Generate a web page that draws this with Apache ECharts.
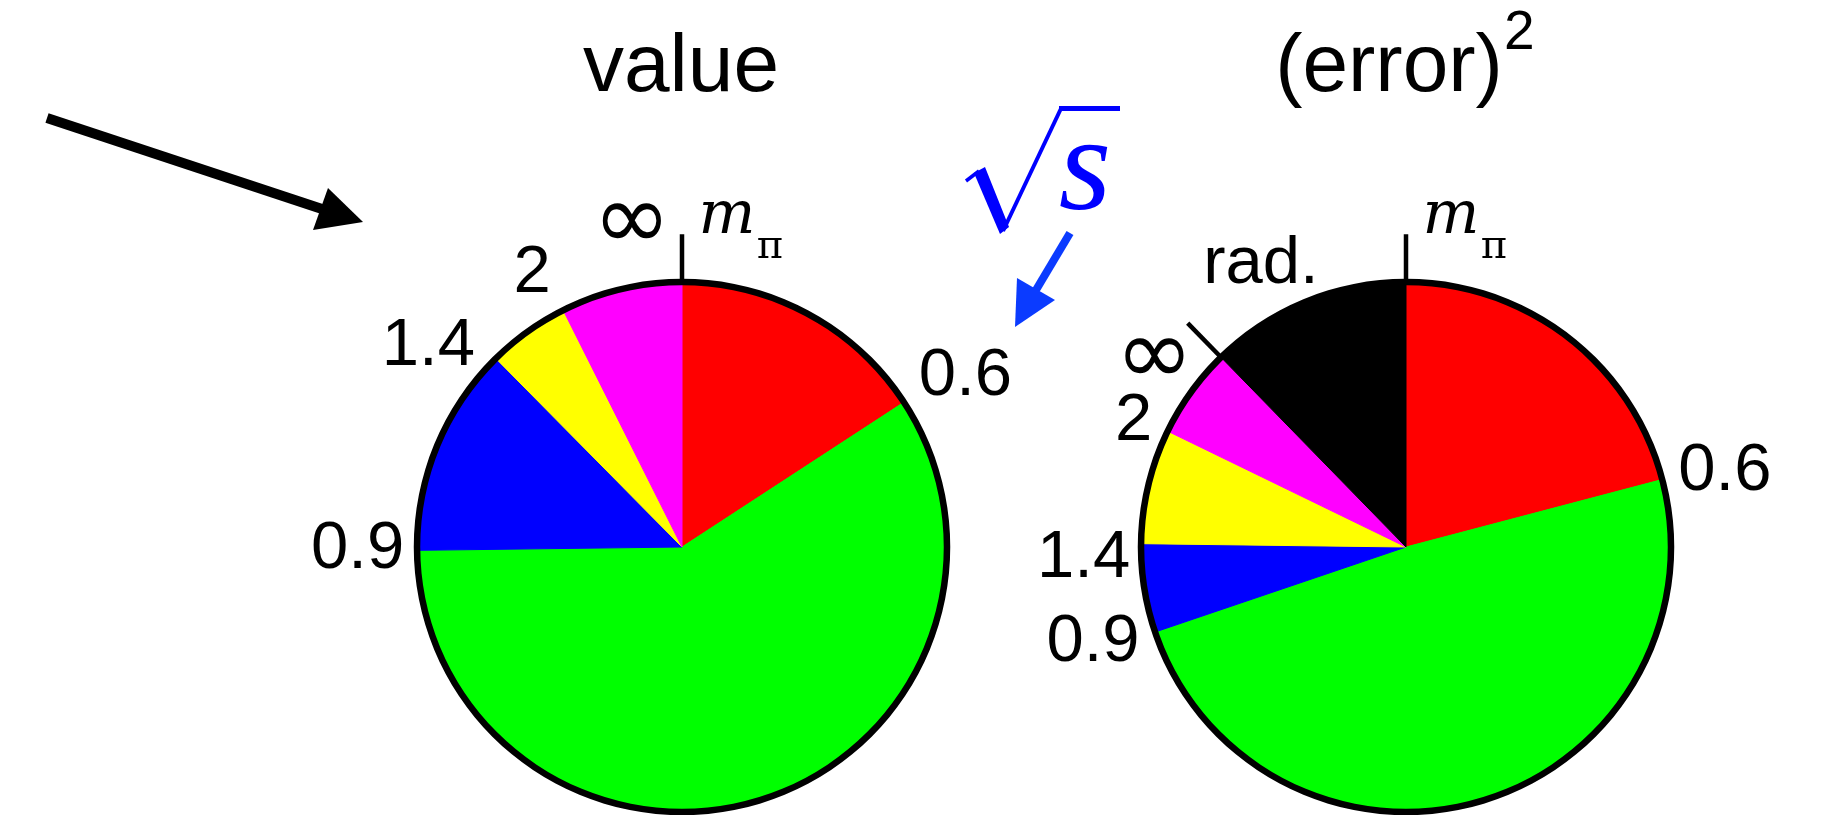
<!DOCTYPE html>
<html>
<head>
<meta charset="utf-8">
<script src="https://cdn.jsdelivr.net/npm/echarts@6/dist/echarts.min.js"></script>
<style>
  html, body { margin: 0; padding: 0; background: #fff; }
  #chart { width: 1825px; height: 815px; }
</style>
</head>
<body>
<div id="chart"></div>
<script>
// √s intervals (GeV) in drawing order, clockwise from 12 o'clock
const energyBins = ['mπ–0.6', '0.6–0.9', '0.9–1.4', '1.4–2', '2–∞', 'rad.'];
const binColors = ['#ff0000', '#00ff00', '#0000ff', '#ffff00', '#ff00ff', '#000000'];
// share of the value and of the squared error carried by each interval (%)
const valueShare = [15.8, 59.0, 12.8, 5.0, 7.4];
const errorShare = [20.9, 48.9, 5.4, 7.0, 5.5, 12.3];
// text written at the edges between neighbouring intervals
const edgeLabels = ['0.6', '0.9', '1.4', '2', '∞'];
const thresholdMain = 'm';
const thresholdSub = 'π';
const extraLabel = 'rad.';
const panelTitles = ['value', '(error)'];
const titleSup = '2';

// ---- layout ----
const CY = 547, R = 265, RIM = 6.5, TICK = 0.18, REACH = 1.4;
const panels = [
  { cx: 682, share: valueShare, nudge: { '0.6': [9, 9], '0.9': [-2, -2], '1.4': [-25, 31], '2': [-13, 0], '∞': [0, 0] } },
  { cx: 1406, share: errorShare, nudge: { '0.6': [3, 8], '0.9': [-3, -10], '1.4': [0, 16], '2': [0, 7], '∞': [9, 8] } }
];
const SANS = '"Liberation Sans", Arial, Helvetica, sans-serif';
const EDGE_FS = 67;

const ctx2d = document.createElement('canvas').getContext('2d');
function textWidth(txt, font) { ctx2d.font = font; return ctx2d.measureText(txt).width; }

// unit vector (screen coords) pointing at angle value a (0..100, clockwise from top)
function unit(a) {
  const t = a * 3.6 * Math.PI / 180;
  return [Math.sin(t), -Math.cos(t)];
}

function labelItem(a, text, offset, style) {
  return {
    value: [1, a],
    label: Object.assign({
      show: true, formatter: text, position: [0, 0],
      align: 'center', verticalAlign: 'middle',
      offset: offset, color: '#000', opacity: 1, textBorderWidth: 0
    }, style)
  };
}

// label sitting just outside the rim, centred on the edge direction
function edgeLabel(text, a, nudge) {
  const w = textWidth(text, EDGE_FS + 'px ' + SANS);
  const h = 0.72 * EDGE_FS;
  const [ux, uy] = unit(a);
  const d = 2.5 + 8 + Math.abs(ux) * w / 2 + Math.abs(uy) * h / 2;
  return labelItem(a, text, [ux * d + nudge[0], uy * d + nudge[1]], { fontSize: EDGE_FS, fontFamily: SANS });
}

// label placed `rad` px from the centre and `side` px along the clockwise tangent
function sideLabel(text, a, rad, side, style, nudge) {
  const [ux, uy] = unit(a);
  const tx = -uy, ty = ux;
  const n = nudge || [0, 0];
  const off = [ux * (rad - R) + tx * side + n[0], uy * (rad - R) + ty * side + n[1]];
  return labelItem(a, text, off, style);
}

const infStyle = { fontSize: 94, fontFamily: '"DejaVu Sans", sans-serif' };
const mStyle = { fontSize: 60, fontFamily: '"DejaVu Serif", serif', fontStyle: 'italic' };
const piStyle = { fontSize: 40, fontFamily: '"DejaVu Serif", serif' };
const radStyle = { fontSize: EDGE_FS, fontFamily: SANS };

const option = {
  animation: false,
  backgroundColor: '#fff',
  polar: [], angleAxis: [], radiusAxis: [], series: [], graphic: []
};

panels.forEach((p, k) => {
  // polar frame shares the pie centre; radius 1 sits on the rim
  option.polar.push({ center: [p.cx, CY], radius: R * REACH });
  option.angleAxis.push({
    polarIndex: k, type: 'value', min: 0, max: 100, startAngle: 90, clockwise: true,
    axisLine: { show: false }, axisTick: { show: false }, axisLabel: { show: false }, splitLine: { show: false }
  });
  option.radiusAxis.push({
    polarIndex: k, type: 'value', min: 0, max: REACH, show: false,
    axisLine: { show: false }, axisTick: { show: false }, axisLabel: { show: false }, splitLine: { show: false }
  });

  // coloured sectors
  option.series.push({
    type: 'pie', center: [p.cx, CY], radius: R - 2, startAngle: 90, clockwise: true,
    silent: true, z: 2, label: { show: false }, labelLine: { show: false },
    data: p.share.map((v, i) => ({
      name: energyBins[i], value: v,
      itemStyle: { color: binColors[i], borderColor: binColors[i], borderWidth: 1 }
    }))
  });
  // black rim around the disc
  option.series.push({
    type: 'pie', center: [p.cx, CY], radius: [R - RIM / 2, R + RIM / 2], startAngle: 90, silent: true, z: 4,
    label: { show: false }, labelLine: { show: false },
    data: [{ name: 'rim', value: 1, itemStyle: { color: '#000', borderWidth: 0 } }]
  });

  let acc = 0;
  const edges = p.share.map(v => (acc += v));
  const infEdge = edges[edgeLabels.length - 1];
  const tickAngles = infEdge > 99.9 ? [100] : [infEdge, 100];
  tickAngles.forEach(a => option.series.push({
    type: 'line', coordinateSystem: 'polar', polarIndex: k, symbol: 'none', silent: true,
    clip: false, z: 11,
    lineStyle: { color: '#000', width: 4.5, cap: 'butt' },
    data: [[1, a], [1 + TICK, a]]
  }));

  const labels = [];
  edgeLabels.forEach((txt, i) => {
    if (i < edgeLabels.length - 1) labels.push(edgeLabel(txt, edges[i], p.nudge[txt]));
    else labels.push(sideLabel(txt, edges[i], 322, -50, infStyle, p.nudge[txt]));
  });
  labels.push(sideLabel(thresholdMain, 100, 330, 45, mStyle));
  labels.push(sideLabel(thresholdSub, 100, 299, 88, piStyle));
  if (p.share.length > edgeLabels.length) {
    labels.push(sideLabel(extraLabel, (infEdge + 100) / 2, 316, -28, radStyle));
  }
  option.series.push({
    type: 'scatter', coordinateSystem: 'polar', polarIndex: k, clip: false,
    symbolSize: 0, silent: true, z: 12, itemStyle: { opacity: 1 }, data: labels
  });
});

// titles, pointer arrow and the √s direction marker
function txt(x, y, text, size, family, color, align, extra) {
  return {
    type: 'text', x: x, y: y, z: 20,
    style: Object.assign({
      text: text, fontSize: size, fontFamily: family, fill: color,
      align: align, verticalAlign: 'middle', textAlign: align, textVerticalAlign: 'middle'
    }, extra || {})
  };
}
option.graphic = [
  txt(681, 68, panelTitles[0], 82, SANS, '#000', 'center'),
  txt(1389, 68, panelTitles[1], 82, SANS, '#000', 'center'),
  txt(1504, 34, titleSup, 55, SANS, '#000', 'left'),

  { type: 'line', shape: { x1: 47, y1: 118, x2: 322, y2: 209 }, style: { stroke: '#000', lineWidth: 10 } },
  { type: 'polygon', shape: { points: [[328, 188], [363, 222], [313, 230]] }, style: { fill: '#000' } },

  { type: 'line', shape: { x1: 966, y1: 181, x2: 979, y2: 171 }, style: { stroke: '#0000ff', lineWidth: 3.5 } },
  { type: 'polygon', shape: { points: [[974, 173], [985, 167], [1009, 227], [1000, 234]] }, style: { fill: '#0000ff' } },
  { type: 'line', shape: { x1: 1003, y1: 231, x2: 1061, y2: 108.5 }, style: { stroke: '#0000ff', lineWidth: 4 } },
  { type: 'line', shape: { x1: 1059, y1: 108.5, x2: 1120, y2: 108.5 }, style: { stroke: '#0000ff', lineWidth: 5 } },
  txt(1085, 174, 's', 135, '"Liberation Serif", "DejaVu Serif", serif', '#0000ff', 'center', { fontStyle: 'italic' }),

  { type: 'line', shape: { x1: 1070, y1: 233, x2: 1036, y2: 290 }, style: { stroke: '#0b3bff', lineWidth: 8 } },
  { type: 'polygon', shape: { points: [[1017, 278], [1015, 327], [1055, 300]] }, style: { fill: '#0b3bff' } }
];

const chart = echarts.init(document.getElementById('chart'), null, { renderer: 'canvas' });
chart.setOption(option);
</script>
</body>
</html>
